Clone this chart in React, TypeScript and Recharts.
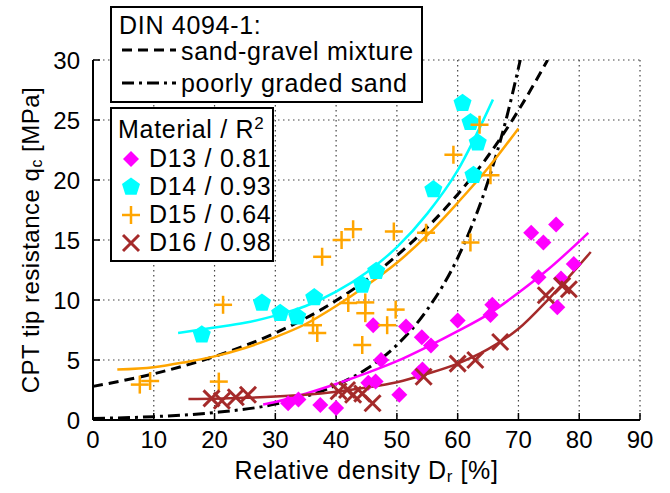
import { ComposedChart, Line, Scatter, XAxis, YAxis, CartesianGrid, Label } from "recharts";

const FONT = '"Liberation Sans", Arial, Helvetica, sans-serif';

const COLORS = {
  d13: "#ff00ff",
  d14: "#00ffff",
  d15: "#ffa500",
  d16: "#a52a2a",
  ink: "#000000",
};

const DASHED = "10 6";
const DASH_DOT = "12 5 3 5";

const xTicks = [0, 10, 20, 30, 40, 50, 60, 70, 80, 90];
const yTicks = [0, 5, 10, 15, 20, 25, 30];

// measured points [Dr %, qc MPa]
const d13Points = [
  [32.1, 1.4], [33.8, 1.7], [37.4, 1.25], [40, 1.0], [45.3, 3.1], [46.5, 3.2],
  [46.1, 7.9], [47.4, 5.0], [50.4, 2.1], [51.5, 7.8], [53.6, 3.9], [54.2, 4.2],
  [54.1, 6.9], [55.6, 6.2], [60, 8.3], [65.4, 8.75], [65.7, 9.6], [72.1, 15.6],
  [74.1, 14.8], [76.2, 16.3], [73.3, 11.9], [77, 11.8], [76.4, 9.4], [79.1, 13.0],
];
const d14Points = [
  [17.9, 7.1], [27.8, 9.75], [30.8, 8.9], [33.6, 8.6], [36.4, 10.2], [44.3, 11.25],
  [46.6, 12.4], [56, 19.2], [60.8, 26.4], [62.1, 24.8], [63.3, 23.1], [62.6, 20.4],
];
const d15Points = [
  [7.7, 2.95], [9.4, 3.25], [20.7, 3.2], [21.4, 9.6], [36.2, 7.9], [36.9, 7.25],
  [37.7, 13.6], [40.9, 15], [42.8, 15.9], [42, 9.75], [44.3, 6.25], [44.8, 9.8],
  [44.8, 8.9], [48.4, 7.9], [49.5, 15.7], [49.8, 9.2], [54.8, 15.6], [59.3, 22.1],
  [62.1, 14.8], [63.6, 24.6], [65.4, 20.4],
];
const d16Points = [
  [19.5, 1.8], [21.2, 1.6], [23.5, 1.9], [25.5, 2.1], [40.4, 2.4], [41.8, 2.5],
  [42.8, 2.1], [44.3, 2.2], [46, 1.4], [54.4, 3.6], [60, 4.7], [62.9, 5.0],
  [67, 6.5], [74.5, 10.4], [77.2, 11.2], [78.3, 10.9],
];

// regression curves
const d13Fit = [
  [28, 1.3], [30, 1.5], [35, 2.2], [40, 3.0], [45, 3.9], [50, 4.9], [55, 6.1],
  [60, 7.4], [65, 8.8], [70, 10.6], [75, 12.6], [81.5, 15.6],
];
const d14Fit = [
  [14, 7.25], [20, 7.7], [25, 8.1], [30, 8.7], [35, 9.5], [40, 10.7], [45, 12.3],
  [50, 14.4], [55, 17.2], [60, 20.8], [65.8, 26.7],
];
const d15Fit = [
  [4, 4.2], [10, 4.4], [15, 4.8], [20, 5.3], [25, 6.0], [30, 6.9], [35, 8.0],
  [40, 9.5], [45, 11.2], [50, 13.1], [55, 15.4], [60, 18.1], [65, 21.0], [70, 24.3],
];
const d16Fit = [
  [15.7, 1.75], [20, 1.78], [25, 1.85], [30, 1.95], [35, 2.1], [40, 2.35], [45, 2.7],
  [50, 3.15], [55, 3.85], [60, 4.7], [65, 5.9], [70, 7.6], [75, 10.1], [81.9, 14.0],
];

// DIN 4094-1 reference curves
const sandGravel = [
  [0, 2.8], [10, 3.85], [20, 5.3], [30, 7.25], [40, 9.95], [50, 13.7], [60, 18.8],
  [65, 22.0], [70, 25.8], [74.8, 30],
];
const poorlyGraded = [
  [0, 0.13], [10, 0.28], [20, 0.62], [30, 1.33], [40, 2.9], [45, 4.25], [50, 6.25],
  [55, 9.2], [60, 13.5], [65, 19.9], [68, 25.1], [70.3, 30],
];

const toXY = (pts: number[][]) => pts.map(([x, y]) => ({ x, y }));

function Diamond({ cx, cy, r = 8 }: { cx: number; cy: number; r?: number }) {
  return (
    <polygon
      points={`${cx},${cy - r} ${cx + r},${cy} ${cx},${cy + r} ${cx - r},${cy}`}
      fill={COLORS.d13}
    />
  );
}

function Pentagon({ cx, cy, r = 9.5 }: { cx: number; cy: number; r?: number }) {
  const pts = [0, 1, 2, 3, 4]
    .map((i) => {
      const a = (-90 + i * 72) * (Math.PI / 180);
      return `${cx + r * Math.cos(a)},${cy + r * Math.sin(a)}`;
    })
    .join(" ");
  return <polygon points={pts} fill={COLORS.d14} />;
}

function Plus({ cx, cy, r = 9 }: { cx: number; cy: number; r?: number }) {
  return (
    <g stroke={COLORS.d15} strokeWidth={2.5}>
      <line x1={cx - r} y1={cy} x2={cx + r} y2={cy} />
      <line x1={cx} y1={cy - r} x2={cx} y2={cy + r} />
    </g>
  );
}

function Cross({ cx, cy, r = 8 }: { cx: number; cy: number; r?: number }) {
  return (
    <g stroke={COLORS.d16} strokeWidth={3}>
      <line x1={cx - r} y1={cy - r} x2={cx + r} y2={cy + r} />
      <line x1={cx - r} y1={cy + r} x2={cx + r} y2={cy - r} />
    </g>
  );
}

const tickStyle = { fontSize: 24, fontFamily: FONT, fill: "#000" };

function YTitle(props: any) {
  const vb = props.viewBox;
  const cx = 30;
  const cy = vb.y + vb.height / 2;
  return (
    <text
      x={cx}
      y={cy}
      transform={`rotate(-90 ${cx} ${cy})`}
      textAnchor="middle"
      dominantBaseline="central"
      fontSize={24}
      fontFamily={FONT}
      letterSpacing={0.5}
      fill="#000"
    >
      CPT tip resistance q
      <tspan fontSize={16} dy={6}>c</tspan>
      <tspan dy={-6}> [MPa]</tspan>
    </text>
  );
}

function XTitle(props: any) {
  const vb = props.viewBox;
  return (
    <text
      x={vb.x + vb.width / 2}
      y={470}
      textAnchor="middle"
      dominantBaseline="central"
      fontSize={25}
      fontFamily={FONT}
      letterSpacing={0.6}
      fill="#000"
    >
      Relative density D
      <tspan fontSize={17} dy={6}>r</tspan>
      <tspan dy={-6}> [%]</tspan>
    </text>
  );
}

const seriesLegend = [
  { name: "D13 / 0.81", Mark: Diamond },
  { name: "D14 / 0.93", Mark: Pentagon },
  { name: "D15 / 0.64", Mark: Plus },
  { name: "D16 / 0.98", Mark: Cross },
];

const boxStyle: React.CSSProperties = {
  position: "absolute",
  background: "#fff",
  border: "2px solid #000",
  boxSizing: "border-box",
  fontFamily: FONT,
  fontSize: 25,
  letterSpacing: 0.7,
  color: "#000",
  lineHeight: 1,
  whiteSpace: "nowrap",
};

export default function App() {
  return (
    <div style={{ position: "absolute", left: 0, top: 0, width: 670, height: 493, background: "#fff" }}>
      <ComposedChart width={670} height={493} margin={{ top: 60, right: 30, left: 0, bottom: 0 }}>
        <CartesianGrid stroke="#444" strokeDasharray="1.5 3.5" strokeWidth={1.2} />
        <XAxis
          type="number"
          dataKey="x"
          domain={[0, 90]}
          ticks={xTicks}
          height={73}
          tick={tickStyle}
          tickSize={-7}
          tickMargin={18}
          tickLine={{ stroke: "#000", strokeWidth: 1.5 }}
          axisLine={{ stroke: "#000", strokeWidth: 2 }}
        >
          <Label content={XTitle} />
        </XAxis>
        <XAxis
          xAxisId="top"
          orientation="top"
          type="number"
          dataKey="x"
          domain={[0, 90]}
          ticks={xTicks}
          height={0}
          tick={false}
          tickSize={-7}
          tickLine={{ stroke: "#000", strokeWidth: 1.5 }}
          axisLine={{ stroke: "#000", strokeWidth: 2 }}
        />
        <YAxis
          type="number"
          domain={[0, 30]}
          ticks={yTicks}
          width={93}
          allowDataOverflow
          tick={tickStyle}
          tickSize={-7}
          tickMargin={20}
          tickLine={{ stroke: "#000", strokeWidth: 1.5 }}
          axisLine={{ stroke: "#000", strokeWidth: 2 }}
        >
          <Label content={YTitle} />
        </YAxis>
        <YAxis
          yAxisId="right"
          orientation="right"
          type="number"
          domain={[0, 30]}
          ticks={yTicks}
          width={0}
          tick={false}
          tickSize={-7}
          tickLine={{ stroke: "#000", strokeWidth: 1.5 }}
          axisLine={{ stroke: "#000", strokeWidth: 2 }}
        />

        <Line data={toXY(sandGravel)} dataKey="y" type="monotone" stroke="#000" strokeWidth={3}
          strokeDasharray={DASHED} dot={false} isAnimationActive={false} />
        <Line data={toXY(poorlyGraded)} dataKey="y" type="monotone" stroke="#000" strokeWidth={3}
          strokeDasharray={DASH_DOT} dot={false} isAnimationActive={false} />

        <Line data={toXY(d13Fit)} dataKey="y" type="monotone" stroke={COLORS.d13} strokeWidth={2.5}
          dot={false} isAnimationActive={false} />
        <Line data={toXY(d14Fit)} dataKey="y" type="monotone" stroke={COLORS.d14} strokeWidth={2.5}
          dot={false} isAnimationActive={false} />
        <Line data={toXY(d15Fit)} dataKey="y" type="monotone" stroke={COLORS.d15} strokeWidth={2.5}
          dot={false} isAnimationActive={false} />
        <Line data={toXY(d16Fit)} dataKey="y" type="monotone" stroke={COLORS.d16} strokeWidth={2.5}
          dot={false} isAnimationActive={false} />

        <Scatter data={toXY(d13Points)} dataKey="y" isAnimationActive={false}
          shape={(p: any) => <Diamond cx={p.cx} cy={p.cy} />} />
        <Scatter data={toXY(d14Points)} dataKey="y" isAnimationActive={false}
          shape={(p: any) => <Pentagon cx={p.cx} cy={p.cy} />} />
        <Scatter data={toXY(d15Points)} dataKey="y" isAnimationActive={false}
          shape={(p: any) => <Plus cx={p.cx} cy={p.cy} />} />
        <Scatter data={toXY(d16Points)} dataKey="y" isAnimationActive={false}
          shape={(p: any) => <Cross cx={p.cx} cy={p.cy} />} />
      </ComposedChart>

      {/* DIN 4094-1 reference legend */}
      <div style={{ ...boxStyle, left: 110, top: 6, width: 313, height: 97 }}>
        <div style={{ position: "absolute", left: 7, top: 5 }}>DIN 4094-1:</div>
        <svg style={{ position: "absolute", left: 8, top: 35 }} width={58} height={14}>
          <line x1={2} y1={7} x2={56} y2={7} stroke="#000" strokeWidth={3} strokeDasharray={DASHED} />
        </svg>
        <div style={{ position: "absolute", left: 69, top: 31 }}>sand-gravel mixture</div>
        <svg style={{ position: "absolute", left: 8, top: 68 }} width={58} height={14}>
          <line x1={2} y1={7} x2={56} y2={7} stroke="#000" strokeWidth={3} strokeDasharray={DASH_DOT} />
        </svg>
        <div style={{ position: "absolute", left: 69, top: 63 }}>poorly graded sand</div>
      </div>

      {/* series legend */}
      <div style={{ ...boxStyle, left: 110, top: 107, width: 164, height: 155 }}>
        <div style={{ position: "absolute", left: 6, top: 8 }}>
          Material / R<sup style={{ fontSize: 17, verticalAlign: 0, position: "relative", top: -9 }}>2</sup>
        </div>
        {seriesLegend.map(({ name, Mark }, i) => (
          <div key={name} style={{ position: "absolute", left: 0, top: 37 + i * 28, height: 26 }}>
            <svg style={{ position: "absolute", left: 6, top: 1 }} width={26} height={24}>
              <Mark cx={13} cy={12} />
            </svg>
            <div style={{ position: "absolute", left: 37, top: 0 }}>{name}</div>
          </div>
        ))}
      </div>
    </div>
  );
}
